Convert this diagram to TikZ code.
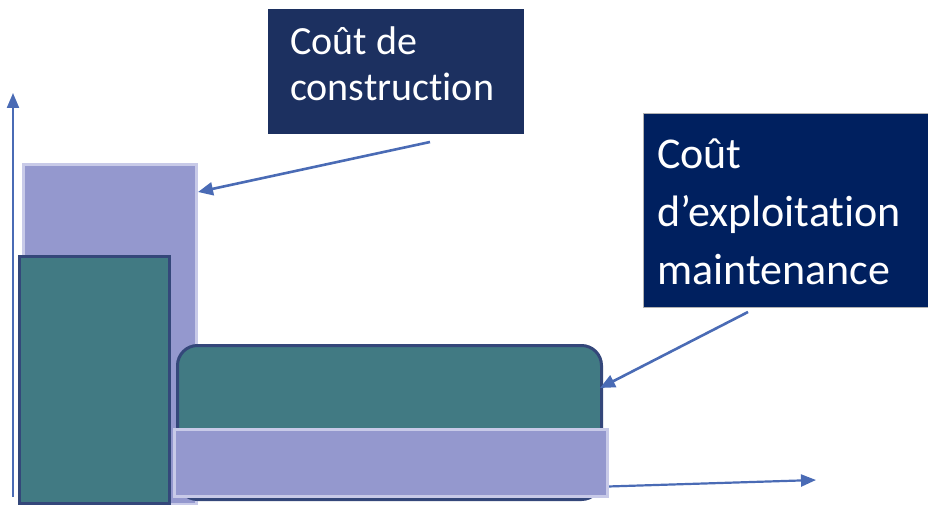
\documentclass[tikz,border=0pt]{standalone}
\usepackage{fontspec}
\setmainfont[Ligatures={TeX,NoCommon}]{Carlito}
\usetikzlibrary{arrows.meta}
\definecolor{lav}{HTML}{9498CE}
\definecolor{lavb}{HTML}{C8CAE8}
\definecolor{teal2}{HTML}{417A83}
\definecolor{navyb}{HTML}{34477A}
\definecolor{box1}{HTML}{1C3060}
\definecolor{box2}{HTML}{00205F}
\definecolor{arr}{HTML}{4A6BB5}
\tikzset{
  lavbox/.style={fill=lav,draw=lavb,line width=3pt},
  tealbox/.style={fill=teal2,draw=navyb,line width=3pt},
  axis/.style={draw=arr,line width=2.2pt,-{Triangle[length=15pt,width=12pt]}},
  pointer/.style={draw=arr,line width=2.6pt,-{Triangle[length=15pt,width=13pt]}},
  label/.style={text=white,align=left,anchor=north west,inner sep=0pt,font=\fontsize{40}{46}\selectfont}
}
\begin{document}
\begin{tikzpicture}[x=1pt,y=-1pt]
\useasboundingbox (0,0) rectangle (928,505);
% axes
\coordinate (yb) at (13,497);
\coordinate (yt) at (13,93);
\draw[axis] (yb) -- (yt);
\coordinate (xb) at (560,488);
\coordinate (xt) at (816,480);
\draw[axis] (xb) -- (xt);
% bars
\node[lavbox,minimum width=173pt,minimum height=340pt,inner sep=0pt,anchor=north west] (cons) at (22,163) {};
\node[tealbox,minimum width=150pt,minimum height=247pt,inner sep=0pt,anchor=north west] (consin) at (18,255) {};
\node[tealbox,rounded corners=20pt,minimum width=424pt,minimum height=154pt,inner sep=0pt,anchor=north west] (expl) at (176,344) {};
\node[lavbox,minimum width=433pt,minimum height=67pt,inner sep=0pt,anchor=north west] (bar) at (173,428) {};
% label boxes
\fill[box1] (268,9) rectangle (524,134);
\node[label] (t1) at (290,27) {Coût de\\construction};
\filldraw[fill=box2,draw=gray!60,line width=0.6pt] (643,113) rectangle (928,307);
\node[label,font=\fontsize{44}{58}\selectfont] (t2) at (657,139) {Coût\\d’exploitation\\maintenance};
% pointers
\coordinate (p1) at (430,142);
\coordinate (p2) at (748,312);
\draw[pointer] (p1) -- (cons.east |- 0,192);
\draw[pointer] (p2) -- (600,388);
\end{tikzpicture}
\end{document}
